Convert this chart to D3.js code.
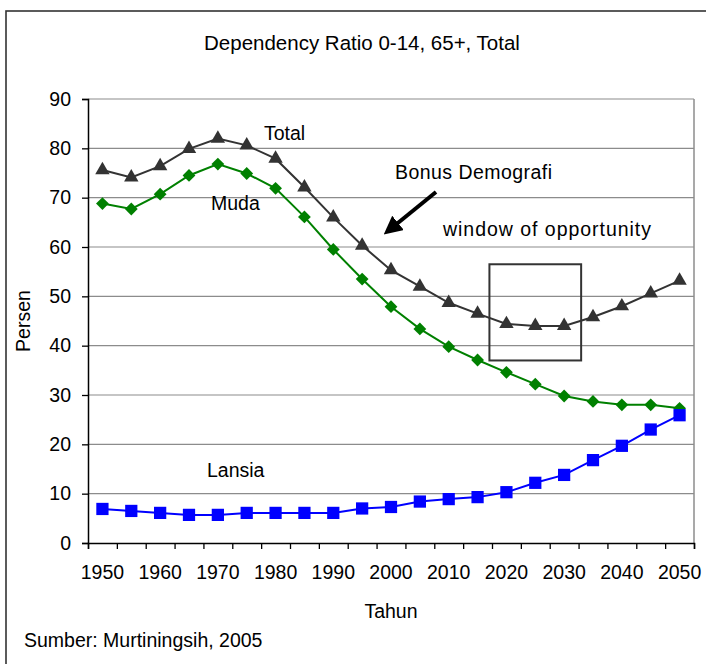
<!DOCTYPE html>
<html>
<head>
<meta charset="utf-8">
<script src="https://cdn.jsdelivr.net/npm/d3@7"></script>
<style>
  html, body { margin: 0; padding: 0; background: #fff; }
  svg { display: block; }
  text { font-family: "Liberation Sans", Arial, sans-serif; fill: #000; }
</style>
</head>
<body>
<svg id="chart" width="706" height="664"></svg>
<script>
// ---- data ----
const years = [1950, 1955, 1960, 1965, 1970, 1975, 1980, 1985, 1990, 1995, 2000,
               2005, 2010, 2015, 2020, 2025, 2030, 2035, 2040, 2045, 2050];
const total  = [75.6, 74.1, 76.4, 79.9, 82.0, 80.6, 77.9, 72.1, 66.0, 60.3, 55.3,
                52.0, 48.7, 46.5, 44.4, 44.0, 44.0, 45.8, 48.0, 50.6, 53.2];
const muda   = [68.8, 67.7, 70.7, 74.5, 76.8, 74.9, 71.9, 66.1, 59.5, 53.5, 47.9,
                43.4, 39.8, 37.1, 34.6, 32.2, 29.8, 28.7, 28.0, 28.0, 27.3];
const lansia = [6.9, 6.5, 6.1, 5.7, 5.7, 6.1, 6.1, 6.1, 6.1, 7.0, 7.3,
                8.4, 8.9, 9.3, 10.3, 12.2, 13.8, 16.8, 19.7, 23.0, 25.9];
const yTicks = [0, 10, 20, 30, 40, 50, 60, 70, 80, 90];
const xLabelYears = [1950, 1960, 1970, 1980, 1990, 2000, 2010, 2020, 2030, 2040, 2050];
const windowYears = [2020, 2030];   // years framed by the "window of opportunity" box
const windowRange = [37, 56.5];     // value range of the box

const svg = d3.select("#chart");
const FS = 19.5;

// outer frame
svg.append("rect").attr("x", 6).attr("y", 11).attr("width", 720).attr("height", 680)
  .attr("fill", "none").attr("stroke", "#333").attr("stroke-width", 1.6);

const L = 88, R = 694, T = 99, B = 543;
const x = d3.scaleBand().domain(years).range([L, R]).padding(0);
const cx = d => x(d) + x.bandwidth() / 2;
const y = d3.scaleLinear().domain([0, 90]).range([B, T]);

// grid
svg.append("g").selectAll("line").data(yTicks.filter(v => v > 0)).join("line")
  .attr("x1", L).attr("x2", R).attr("y1", d => y(d)).attr("y2", d => y(d))
  .attr("stroke", "#8c8c8c").attr("stroke-width", 1.2);
// right plot border
svg.append("line").attr("x1", R).attr("x2", R).attr("y1", T).attr("y2", B)
  .attr("stroke", "#8c8c8c").attr("stroke-width", 1.5);

// y axis
const yAxis = svg.append("g").attr("transform", `translate(${L},0)`)
  .call(d3.axisLeft(y).tickValues(yTicks).tickSize(6).tickPadding(11).tickFormat(d3.format("d")));
yAxis.select(".domain").attr("stroke", "#000").attr("stroke-width", 1.5);
yAxis.selectAll(".tick line").attr("stroke", "#000").attr("stroke-width", 1.3);
yAxis.selectAll("text").attr("font-size", FS).attr("font-family", "Liberation Sans, Arial, sans-serif").attr("fill", "#000");

// x axis: ticks at band boundaries
const xb = d3.scaleLinear().domain([0, years.length]).range([L, R]);
const xTickAxis = svg.append("g").attr("transform", `translate(0,${B})`)
  .call(d3.axisBottom(xb).tickValues(d3.range(0, years.length + 1)).tickSize(6).tickFormat(""));
xTickAxis.select(".domain").attr("stroke", "#000").attr("stroke-width", 1.5);
xTickAxis.selectAll(".tick line").attr("stroke", "#000").attr("stroke-width", 1.3);

// x labels at band centres
const xLab = svg.append("g").attr("transform", `translate(0,${B})`)
  .call(d3.axisBottom(x).tickValues(xLabelYears).tickSize(0).tickPadding(22));
xLab.select(".domain").remove();
xLab.selectAll("text").attr("font-size", FS).attr("font-family", "Liberation Sans, Arial, sans-serif").attr("fill", "#000");

// series
const series = [
  { name: "Total", values: total, color: "#333333", symbol: d3.symbolTriangle, size: 90, rot: 0 },
  { name: "Muda", values: muda, color: "#008000", symbol: d3.symbolSquare, size: 82, rot: 45 },
  { name: "Lansia", values: lansia, color: "#0000ff", symbol: d3.symbolSquare, size: 150, rot: 0 }
];
const line = d3.line().x((d, i) => cx(years[i])).y(d => y(d));
series.forEach(s => {
  const g = svg.append("g");
  g.append("path").attr("d", line(s.values)).attr("fill", "none")
    .attr("stroke", s.color).attr("stroke-width", 2);
  g.selectAll("path.m").data(s.values).join("path").attr("class", "m")
    .attr("d", d3.symbol(s.symbol, s.size))
    .attr("transform", (d, i) => `translate(${cx(years[i])},${y(d)}) rotate(${s.rot})`)
    .attr("fill", s.color);
});

// window box
svg.append("rect")
  .attr("x", cx(windowYears[0]) - 17).attr("y", y(windowRange[1]))
  .attr("width", cx(windowYears[1]) - cx(windowYears[0]) + 34)
  .attr("height", y(windowRange[0]) - y(windowRange[1]))
  .attr("fill", "none").attr("stroke", "#333").attr("stroke-width", 2);

// arrow
const defs = svg.append("defs");
defs.append("marker").attr("id", "ah").attr("viewBox", "0 0 10 10").attr("refX", 7).attr("refY", 5)
  .attr("markerWidth", 4.6).attr("markerHeight", 4.6).attr("orient", "auto")
  .append("path").attr("d", "M0,0 L10,5 L0,10 z").attr("fill", "#000");
svg.append("line").attr("x1", 436).attr("y1", 192).attr("x2", 388).attr("y2", 231)
  .attr("stroke", "#000").attr("stroke-width", 4).attr("marker-end", "url(#ah)");

// annotations
const ann = [
  { t: "Total", x: 264, y: 140, w: null },
  { t: "Muda", x: 211, y: 210, w: null },
  { t: "Bonus Demografi", x: 395, y: 179, w: 157 },
  { t: "window of opportunity", x: 443, y: 236, w: 208 },
  { t: "Lansia", x: 207, y: 477, w: null }
];
svg.append("g").selectAll("text").data(ann).join("text")
  .attr("x", d => d.x).attr("y", d => d.y).attr("font-size", FS)
  .attr("textLength", d => d.w).attr("lengthAdjust", "spacing")
  .text(d => d.t);

// titles
svg.append("text").attr("x", 362).attr("y", 50).attr("text-anchor", "middle")
  .attr("font-size", 20.5).text("Dependency Ratio 0-14, 65+, Total");
svg.append("text").attr("transform", `translate(30,${(T + B) / 2}) rotate(-90)`)
  .attr("text-anchor", "middle").attr("font-size", FS).text("Persen");
svg.append("text").attr("x", (L + R) / 2).attr("y", 618).attr("text-anchor", "middle")
  .attr("font-size", FS).text("Tahun");
svg.append("text").attr("x", 24).attr("y", 647).attr("font-size", FS)
  .text("Sumber: Murtiningsih, 2005");
</script>
</body>
</html>
